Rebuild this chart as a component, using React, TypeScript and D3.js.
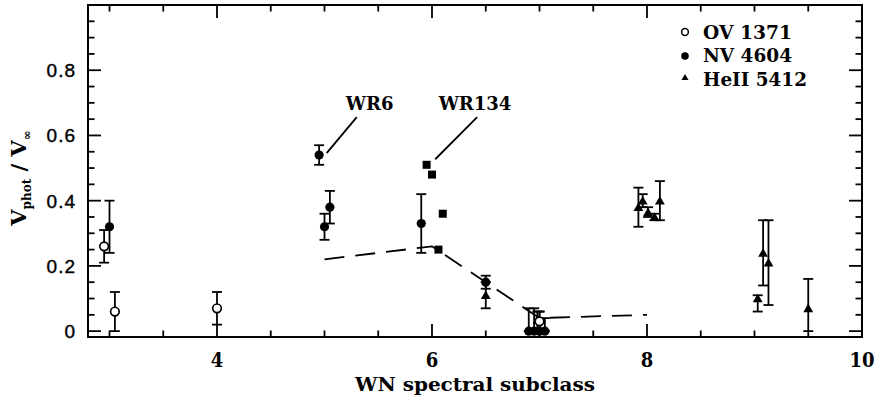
import React from 'react';
import * as d3 from 'd3';

// Canvas
const W = 881;
const H = 397;

// Axes
const xTicks = [4, 6, 8, 10];
const xMinor = [3, 3.5, 4.5, 5, 5.5, 6.5, 7, 7.5, 8.5, 9, 9.5];
const yTicks = [0, 0.2, 0.4, 0.6, 0.8];
const yTickLabels = ['0', '0.2', '0.4', '0.6', '0.8'];
const yMajorAll = [0, 0.2, 0.4, 0.6, 0.8, 1.0];
const yMinor = [0.05, 0.1, 0.15, 0.25, 0.3, 0.35, 0.45, 0.5, 0.55, 0.65, 0.7, 0.75, 0.85, 0.9, 0.95];

// OV 1371 (open circles)
const ovX = [2.95, 3.05, 4.0, 7.0];
const ovY = [0.26, 0.06, 0.07, 0.03];
const ovLo = [0.21, 0.0, 0.02, 0.0];
const ovHi = [0.31, 0.12, 0.12, 0.06];

// NV 4604 (filled circles)
const nvX = [3.0, 4.95, 5.0, 5.05, 5.9, 6.5, 6.9, 6.95, 7.0, 7.05];
const nvY = [0.32, 0.54, 0.32, 0.38, 0.33, 0.15, 0, 0, 0, 0];
const nvLo = [0.24, 0.51, 0.28, 0.33, 0.24, 0.13, 0, 0, 0, 0];
const nvHi = [0.40, 0.57, 0.36, 0.43, 0.42, 0.17, 0.07, 0.07, 0.06, 0.04];

// HeII 5412 (triangles)
const heX = [6.5, 6.98, 7.92, 7.96, 8.01, 8.07, 8.12, 9.03, 9.08, 9.13, 9.5];
const heY = [0.11, 0.035, 0.38, 0.40, 0.365, 0.35, 0.40, 0.10, 0.24, 0.21, 0.07];
const heLo = [0.07, 0.0, 0.32, 0.38, 0.35, 0.34, 0.34, 0.06, 0.14, 0.08, 0.0];
const heHi = [0.15, 0.06, 0.44, 0.42, 0.38, 0.36, 0.46, 0.11, 0.34, 0.34, 0.16];

// WR134 measurements (filled squares)
const sqX = [5.95, 6.0, 6.1, 6.06];
const sqY = [0.51, 0.48, 0.36, 0.25];

// Dashed trend line
const lineX = [5.0, 6.0, 6.5, 7.0, 8.0];
const lineY = [0.22, 0.26, 0.15, 0.04, 0.05];

// Star labels with leader lines (data coordinates)
const labelText = ['WR6', 'WR134'];
const labelX = [5.42, 6.4];
const labelY = [0.695, 0.695];
const leaderX0 = [5.02, 6.03];
const leaderY0 = [0.546, 0.527];
const leaderX1 = [5.3, 6.42];
const leaderY1 = [0.656, 0.656];

// Legend entries
const legendNames = ['OV 1371', 'NV 4604', 'HeII 5412'];
const legendWidths = [89, 89, 104];

const x = d3.scaleLinear().domain([2.8, 10]).range([88, 862]);
const y = d3.scaleLinear().domain([-0.018, 1.0]).range([337, 5]);

const SERIF = '"DejaVu Serif", serif';
const SERIF_C = '"DejaVu Serif Condensed", "DejaVu Serif", serif';
const SANS = '"Liberation Sans", Arial, sans-serif';

function ErrBars({ xs, lo, hi }: { xs: number[]; lo: number[]; hi: number[] }) {
  const cap = 5;
  return (
    <g stroke="#000" strokeWidth={1.8} fill="none">
      {xs.map((xv, i) => {
        const px = x(xv);
        const y0 = y(lo[i]);
        const y1 = y(hi[i]);
        return (
          <g key={i}>
            <line x1={px} x2={px} y1={y0} y2={y1} />
            <line x1={px - cap} x2={px + cap} y1={y0} y2={y0} />
            <line x1={px - cap} x2={px + cap} y1={y1} y2={y1} />
          </g>
        );
      })}
    </g>
  );
}

export default function App() {
  const tri = d3.symbol().type(d3.symbolTriangle).size(42)() as string;
  const triSmall = d3.symbol().type(d3.symbolTriangle).size(22)() as string;
  const dashed = d3
    .line<number>()
    .x((_, i) => x(lineX[i]))
    .y((d) => y(d))(lineY) as string;

  const x0 = x.range()[0];
  const x1 = x.range()[1];
  const yTop = y.range()[1];
  const yBot = y.range()[0];
  const major = 13;
  const minor = 6.5;

  return (
    <svg
      width={W}
      height={H}
      style={{ position: 'absolute', left: 0, top: 0, background: '#fff' }}
    >
      <rect width={W} height={H} fill="#fff" />

      {/* frame */}
      <rect x={x0} y={yTop} width={x1 - x0} height={yBot - yTop} fill="none" stroke="#000" strokeWidth={2} />

      {/* ticks */}
      <g stroke="#000" strokeWidth={1.8}>
        {xTicks.map((t) => (
          <g key={'xt' + t}>
            <line x1={x(t)} x2={x(t)} y1={yBot} y2={yBot - major} />
            <line x1={x(t)} x2={x(t)} y1={yTop} y2={yTop + major} />
          </g>
        ))}
        {xMinor.map((t) => (
          <g key={'xm' + t}>
            <line x1={x(t)} x2={x(t)} y1={yBot} y2={yBot - minor} />
            <line x1={x(t)} x2={x(t)} y1={yTop} y2={yTop + minor} />
          </g>
        ))}
        {yMajorAll.map((t) => (
          <g key={'yt' + t}>
            <line x1={x0} x2={x0 + major} y1={y(t)} y2={y(t)} />
            <line x1={x1} x2={x1 - major} y1={y(t)} y2={y(t)} />
          </g>
        ))}
        {yMinor.map((t) => (
          <g key={'ym' + t}>
            <line x1={x0} x2={x0 + minor} y1={y(t)} y2={y(t)} />
            <line x1={x1} x2={x1 - minor} y1={y(t)} y2={y(t)} />
          </g>
        ))}
      </g>

      {/* tick labels */}
      <g fontFamily={SANS} fontSize={19} fill="#000" textAnchor="end">
        {yTicks.map((t, i) => (
          <text key={'yl' + t} x={76} y={y(t) + 7} letterSpacing={1} stroke="#000" strokeWidth={0.4}>
            {yTickLabels[i]}
          </text>
        ))}
      </g>
      <g fontFamily={SERIF_C} fontWeight="bold" fontSize={20} fill="#000" textAnchor="middle">
        {xTicks.map((t) => (
          <text key={'xl' + t} x={x(t)} y={367}>
            {t}
          </text>
        ))}
      </g>

      {/* axis titles */}
      <text
        x={(x0 + x1) / 2}
        y={391}
        textAnchor="middle"
        fontFamily={SERIF_C}
        fontWeight="bold"
        fontSize={19}
        textLength={240}
        lengthAdjust="spacingAndGlyphs"
      >
        WN spectral subclass
      </text>
      <text
        transform="translate(26,178) rotate(-90)"
        textAnchor="middle"
        fontFamily={SERIF}
        fontWeight="bold"
        fontSize={21}
      >
        V<tspan fontSize={12} dy={5}>phot</tspan>
        <tspan dy={-5}>{'  /  '}</tspan>V<tspan fontSize={12} dy={5}>∞</tspan>
      </text>

      {/* dashed trend */}
      <path d={dashed} fill="none" stroke="#000" strokeWidth={1.8} strokeDasharray="20 11" />

      {/* leader lines and labels */}
      <g stroke="#000" strokeWidth={1.8}>
        {labelText.map((_, i) => (
          <line
            key={'ll' + i}
            x1={x(leaderX0[i])}
            y1={y(leaderY0[i])}
            x2={x(leaderX1[i])}
            y2={y(leaderY1[i])}
          />
        ))}
      </g>
      <g fontFamily={SERIF} fontWeight="bold" fontSize={18} textAnchor="middle">
        {labelText.map((t, i) => (
          <text key={'lt' + i} x={x(labelX[i])} y={y(labelY[i]) + 6}>
            {t}
          </text>
        ))}
      </g>

      {/* error bars */}
      <ErrBars xs={ovX} lo={ovLo} hi={ovHi} />
      <ErrBars xs={nvX} lo={nvLo} hi={nvHi} />
      <ErrBars xs={heX} lo={heLo} hi={heHi} />

      {/* markers */}
      {heX.map((xv, i) => (
        <path key={'he' + i} d={tri} transform={`translate(${x(xv)},${y(heY[i]) + 1})`} fill="#000" />
      ))}
      {sqX.map((xv, i) => (
        <rect key={'sq' + i} x={x(xv) - 4} y={y(sqY[i]) - 4} width={8} height={8} fill="#000" />
      ))}
      {nvX.map((xv, i) => (
        <circle key={'nv' + i} cx={x(xv)} cy={y(nvY[i])} r={4.6} fill="#000" />
      ))}
      {ovX.map((xv, i) => (
        <circle key={'ov' + i} cx={x(xv)} cy={y(ovY[i])} r={4.3} fill="#fff" stroke="#000" strokeWidth={1.7} />
      ))}

      {/* legend */}
      <g>
        <circle cx={685} cy={32} r={3.4} fill="#fff" stroke="#000" strokeWidth={1.5} />
        <circle cx={685} cy={56} r={3.8} fill="#000" />
        <path d={triSmall} transform="translate(685,78)" fill="#000" />
        {legendNames.map((n, i) => (
          <text
            key={n}
            x={703}
            y={38.5 + i * 23.5}
            fontFamily={SERIF}
            fontWeight="bold"
            fontSize={18}
            textLength={legendWidths[i]}
            lengthAdjust="spacingAndGlyphs"
          >
            {n}
          </text>
        ))}
      </g>
    </svg>
  );
}
